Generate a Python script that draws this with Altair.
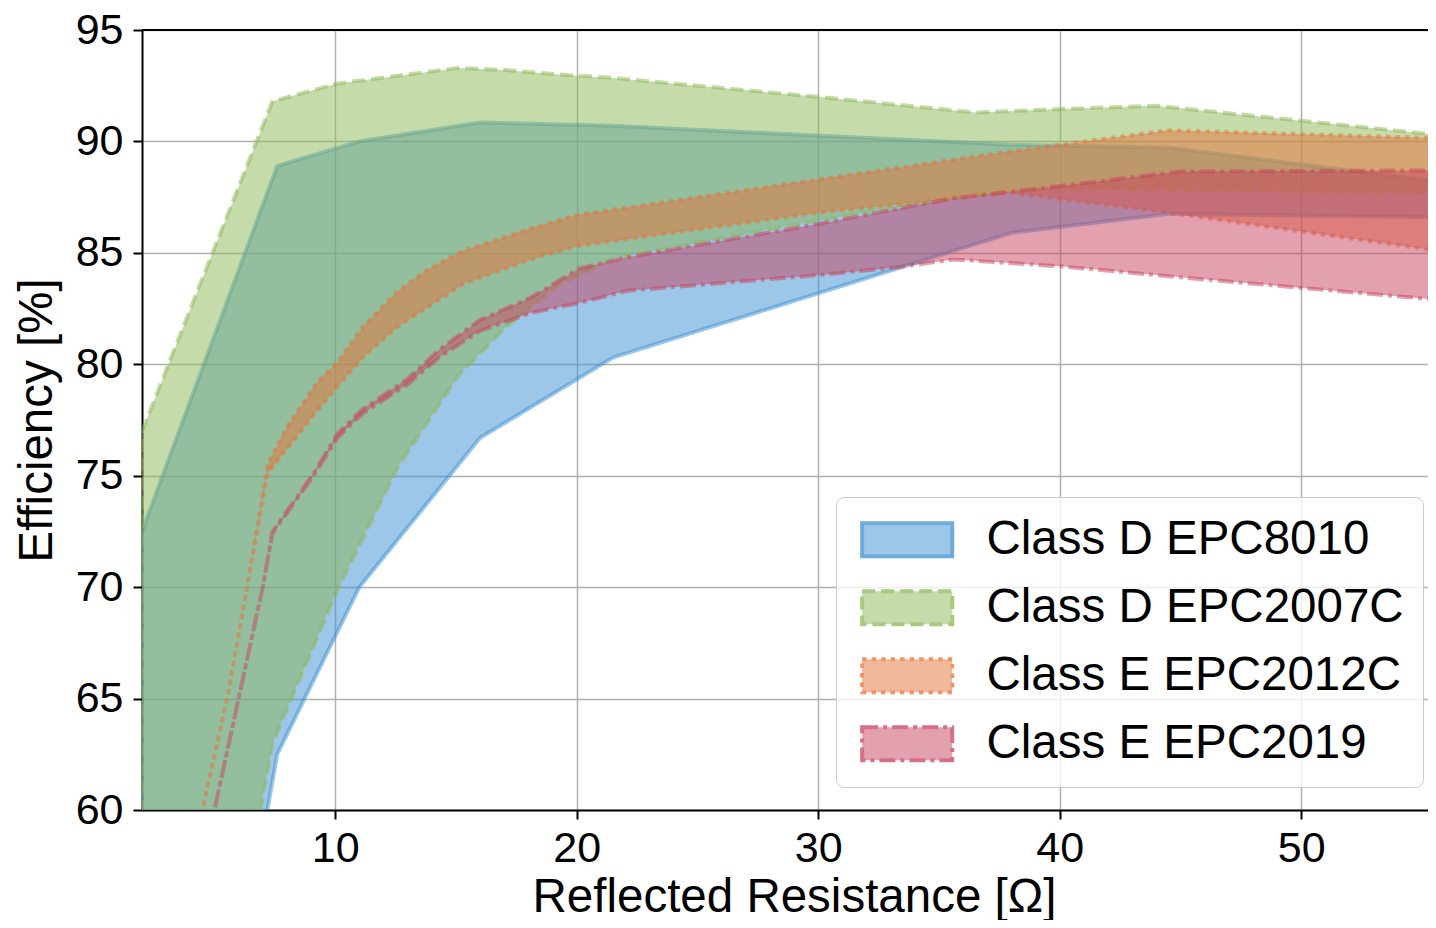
import altair as alt
import pandas as pd

SERIES = ["Class D EPC8010", "Class D EPC2007C", "Class E EPC2012C", "Class E EPC2019"]
COLORS = ["#3b8fd1", "#8bb755", "#e57137", "#c7415d"]
PALE = ["#9dc7e8", "#c5dbaa", "#f2b89b", "#e3a0ae"]
EDGE = ["#6cabdc", "#a8c980", "#ec9569", "#d57086"]
DASHES = [[1, 0], [13, 6], [4.5, 5], [16, 5, 4, 5]]

BLUE_X = [2, 7.6, 11, 16, 21.5, 38, 44.5, 55.6]
BLUE_UP = [72.5, 88.9, 90.0, 90.85, 90.7, 89.85, 89.72, 88.2]
BLUE_LO = [28.3, 62.5, 70.0, 76.7, 80.3, 85.9, 86.75, 86.6]

GREEN_X = [2, 7.4, 10.1, 12.6, 15.1, 17.1, 19.3, 21.5, 30, 36.5, 40, 44, 55.6]
GREEN_UP = [77.0, 91.8, 92.6, 92.95, 93.3, 93.2, 93.0, 92.85, 92.0, 91.3, 91.45, 91.6, 90.3]
GREEN_LO = [30.6, 63.0, 69.9, 75.4, 79.5, 81.7, 83.6, 84.75, 86.45, 87.6, 87.9, 87.85, 87.7]

ORANGE_X = [4.0, 4.5, 5.6, 6.35, 7.2, 8.0, 9.25, 10.1, 11.15, 12.6, 13.9, 15.3, 18.1, 20, 30, 37.9, 44.5, 55.6]
ORANGE_UP = [57.7, 60.0, 65.4, 70.0, 75.5, 77.2, 79.2, 80.1, 81.7, 83.3, 84.3, 85.1, 86.1, 86.7, 88.3, 89.55, 90.5, 90.15]
ORANGE_LO = [57.7, 60.0, 65.4, 70.0, 75.1, 76.2, 77.9, 79.0, 80.3, 81.7, 82.6, 83.6, 84.7, 85.3, 86.8, 87.7, 86.8, 85.1]

PINK_X = [4.5, 5.0, 6.05, 7.0, 7.4, 9.1, 10.1, 11.15, 13.0, 14.3, 16.0, 18.1, 20.1, 22.1, 30, 33.4, 35.6, 40, 45, 55.6]
PINK_UP = [57.6, 60.0, 65.25, 70.0, 72.5, 75.1, 76.9, 78.0, 79.35, 80.65, 82.0, 83.0, 84.3, 84.8, 86.3, 87.0, 87.45, 88.0, 88.65, 88.7]
PINK_LO = [57.6, 60.0, 65.25, 70.0, 72.4, 75.0, 76.7, 77.8, 79.1, 80.3, 81.5, 82.3, 82.75, 83.3, 84.0, 84.37, 84.7, 84.4, 83.9, 82.9]

X_TICKS = [10, 20, 30, 40, 50]
Y_TICKS = [60, 65, 70, 75, 80, 85, 90, 95]

bands = [
    (SERIES[0], BLUE_X, BLUE_UP, BLUE_LO),
    (SERIES[1], GREEN_X, GREEN_UP, GREEN_LO),
    (SERIES[2], ORANGE_X, ORANGE_UP, ORANGE_LO),
    (SERIES[3], PINK_X, PINK_UP, PINK_LO),
]
rows = []
for name, xs, ups, los in bands:
    for x, u, l in zip(xs, ups, los):
        rows.append({"series": name, "x": x, "up": u, "lo": l})
df = pd.DataFrame(rows)

FONT = "Liberation Sans"
SYM = "M-1,-1L4.43,-1L4.43,1L-1,1Z"

xenc = alt.X(
    "x:Q",
    scale=alt.Scale(domain=[2, 55.25], nice=False, zero=False),
    axis=alt.Axis(values=X_TICKS, title="Reflected Resistance [Ω]", labelFlush=False),
)
yenc = alt.Y(
    "up:Q",
    scale=alt.Scale(domain=[60, 95], nice=False, zero=False),
    axis=alt.Axis(values=Y_TICKS, title="Efficiency [%]", labelFlush=False),
)

base = alt.Chart(df).encode(x=xenc, y=yenc, y2=alt.Y2("lo:Q"))

layers = []
for i, name in enumerate(SERIES):
    layers.append(
        base.transform_filter(alt.datum.series == name).mark_area(
            clip=True,
            fill=COLORS[i],
            stroke=COLORS[i],
            fillOpacity=0.5,
            strokeOpacity=0.5,
            strokeWidth=4,
            strokeDash=DASHES[i],
        )
    )

# legend frame (white box with border); its own entries are invisible
box_leg = alt.Legend(
    title=None,
    orient="none",
    legendX=694,
    legendY=467,
    symbolType=SYM,
    symbolSize=1100,
    symbolOpacity=0,
    labelOpacity=0,
    labelFont=FONT,
    labelFontSize=47.5,
    labelOffset=84,
    labelLimit=1000,
    rowPadding=19,
    padding=19,
    fillColor="rgba(255,255,255,0.8)",
    strokeColor="#cccccc",
    cornerRadius=8,
)
box_layer = (
    base.transform_filter(alt.datum.series == "__none__")
    .mark_area()
    .encode(stroke=alt.Stroke("series:N", scale=alt.Scale(domain=SERIES, range=EDGE), legend=box_leg))
)

entry_layers = []
for i, name in enumerate(SERIES):
    leg = alt.Legend(
        title=None,
        orient="none",
        legendX=713,
        legendY=486 + 68 * i,
        symbolType=SYM,
        symbolSize=1100,
        symbolOpacity=1,
        symbolStrokeColor=EDGE[i],
        symbolStrokeWidth=4,
        symbolDash=DASHES[i],
        labelFont=FONT,
        labelFontSize=47.5,
        labelColor="black",
        labelOffset=84,
        labelLimit=1000,
        padding=0,
    )
    entry_layers.append(
        base.transform_filter(alt.datum.series == "__none__")
        .mark_area(fillOpacity=1)
        .encode(fill=alt.Fill("series:N", scale=alt.Scale(domain=[name], range=[PALE[i]]), legend=leg))
    )

top_spine = alt.Chart(df).mark_rule(color="black", strokeWidth=2).encode(y=alt.datum(95))

chart = (
    alt.layer(*layers, box_layer, *entry_layers, top_spine)
    .resolve_scale(fill="independent")
    .properties(
        width=1286,
        height=780,
        autosize=alt.AutoSizeParams(type="none"),
        padding={"left": 134, "top": 22, "right": 0, "bottom": 110},
    )
    .configure_view(stroke=None)
    .configure_axis(
        domainColor="black",
        domainWidth=2,
        tickColor="black",
        tickWidth=2,
        tickSize=9,
        labelFont=FONT,
        labelFontSize=43,
        labelColor="black",
        titleFont=FONT,
        titleFontSize=47.5,
        titleFontWeight="normal",
        titleColor="black",
        gridColor="#b0b0b0",
        gridWidth=1.5,
        labelOverlap=False,
    )
    .configure_axisX(labelPadding=8, titlePadding=3, titleX=652, titleAlign="center")
    .configure_axisY(labelPadding=10, titlePadding=14)
)

chart.save("out.html", embed_options={"renderer": "svg", "actions": False})
